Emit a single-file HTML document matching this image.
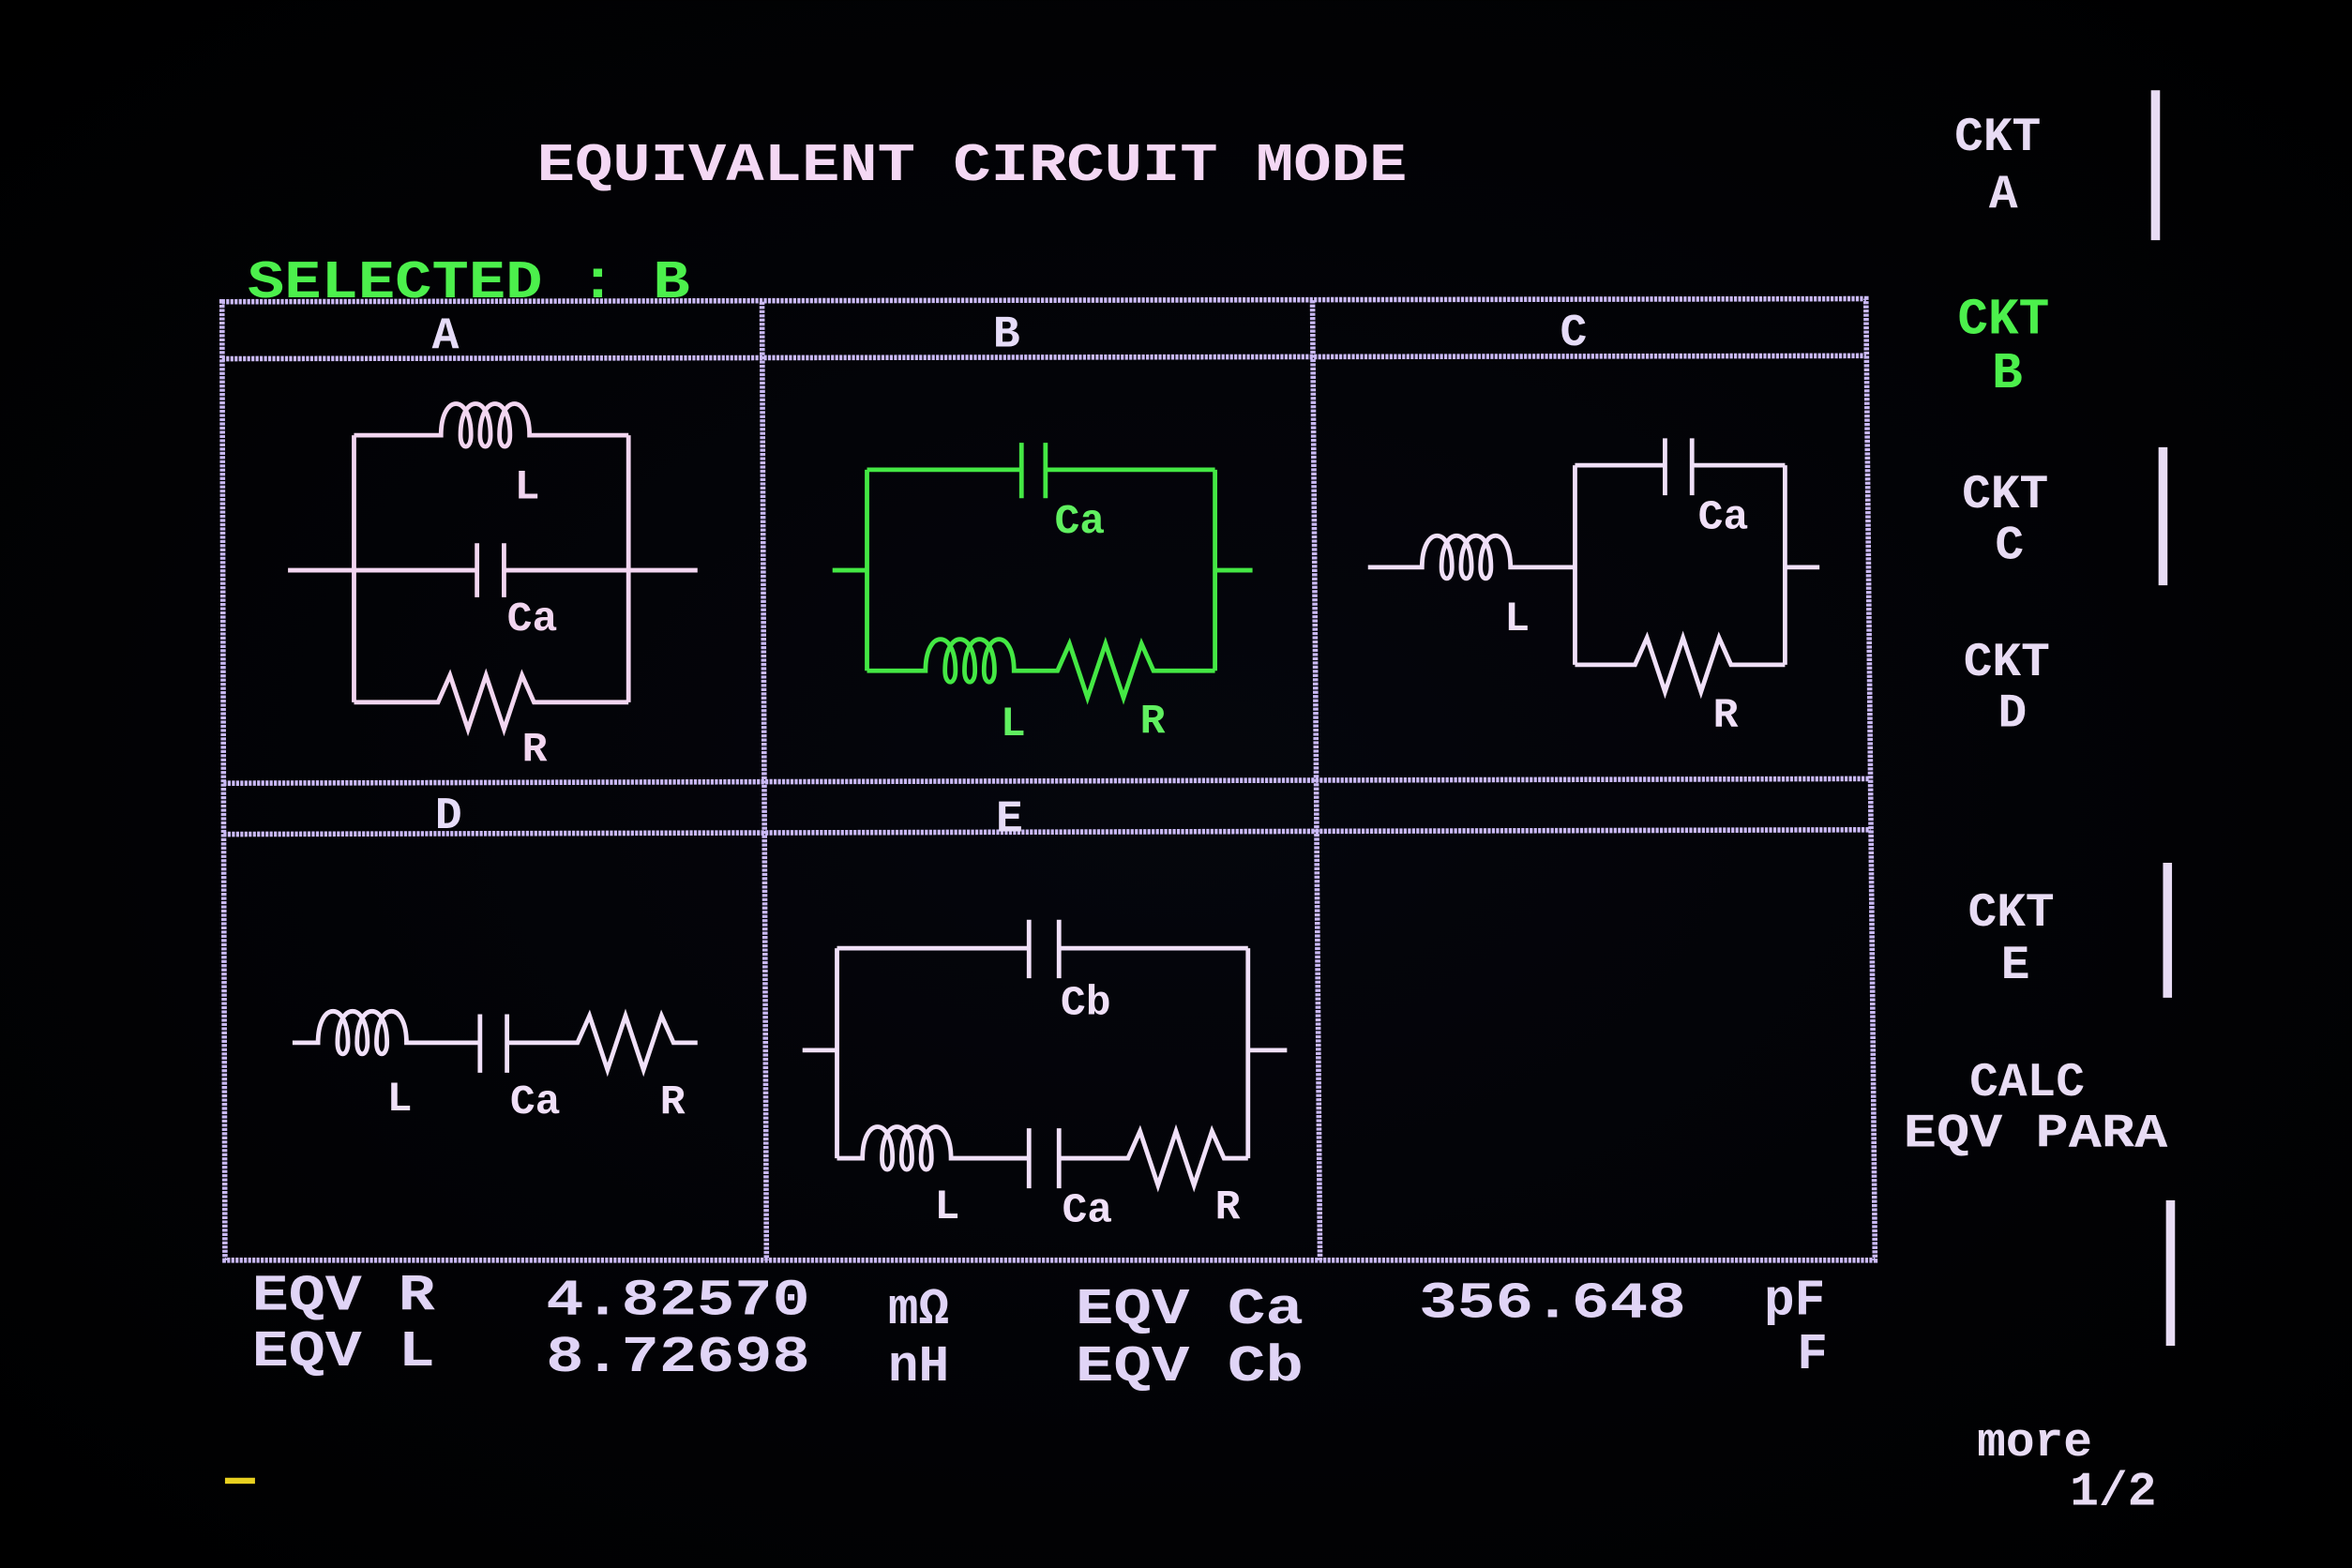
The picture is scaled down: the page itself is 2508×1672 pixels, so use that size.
<!DOCTYPE html>
<html><head><meta charset="utf-8"><style>
html,body{margin:0;padding:0;background:#000;}
svg{display:block}
text{font-family:"Liberation Mono","DejaVu Sans Mono",monospace;font-weight:bold;}
</style></head><body>
<svg width="2508" height="1672" viewBox="0 0 1568 1045" xmlns="http://www.w3.org/2000/svg">
<defs>
<radialGradient id="bg" cx="50%" cy="50%" r="70%"><stop offset="0" stop-color="#05060d"/><stop offset="1" stop-color="#000"/></radialGradient>
</defs>
<rect width="1568" height="1045" fill="url(#bg)"/>

<text x="358" y="120" font-size="36" fill="#f4d8f4" textLength="580" lengthAdjust="spacingAndGlyphs">EQUIVALENT CIRCUIT MODE</text>
<text x="165" y="198" font-size="36" fill="#4cf04c" textLength="295" lengthAdjust="spacingAndGlyphs">SELECTED : B</text>

<g stroke="#cbbaf6" stroke-width="3.5" fill="none" stroke-dasharray="2 0.8">
<path d="M148 201 L1244 199 L1250 840 L150 840 Z"/>
<path d="M148 239 L1244 237"/>
<path d="M149 522 L1246 519"/>
<path d="M149 556 L1247 553"/>
<path d="M508 201 L511 840"/>
<path d="M875 200 L880 840"/>
</g>
<g fill="#e6dcf8" font-size="30">
<text x="288" y="232">A</text>
<text x="662" y="231">B</text>
<text x="1040" y="230">C</text>
<text x="290" y="552">D</text>
<text x="664" y="554">E</text>
</g>

<!-- Circuit A -->
<g stroke="#f2d6f0" stroke-width="3" fill="none">
<path d="M192 380 L318 380 M336 380 L465 380"/>
<path d="M318 362 L318 398 M336 362 L336 398"/>
<path d="M236 290 L236 468 M419 290 L419 468"/>
<path d="M236 290 L294 290 c0,-28 20,-28 20,0 c0,10 -7,10 -7,0 c0,-28 20,-28 20,0 c0,10 -7,10 -7,0 c0,-28 20,-28 20,0 c0,10 -7,10 -7,0 c0,-28 20,-28 20,0 L419 290"/>
<path d="M236 468 L292 468 L300 450 L312 486 L324 450 L336 486 L348 450 L356 468 L419 468"/>
</g>
<g fill="#f2d6f0" font-size="28"><text x="343" y="332">L</text><text x="338" y="420">Ca</text><text x="348" y="507">R</text></g>

<!-- Circuit B -->
<g stroke="#44e844" stroke-width="3" fill="none">
<path d="M555 380 L578 380 M810 380 L835 380"/>
<path d="M578 313 L681 313 M697 313 L810 313 M578 313 L578 447 M810 313 L810 447"/>
<path d="M681 295 L681 332 M697 295 L697 332"/>
<path d="M578 447 L617 447 c0,-28 20,-28 20,0 c0,10 -7,10 -7,0 c0,-28 20,-28 20,0 c0,10 -7,10 -7,0 c0,-28 20,-28 20,0 c0,10 -7,10 -7,0 c0,-28 20,-28 20,0 L705 447 L713 429 L725 465 L737 429 L749 465 L761 429 L769 447 L810 447"/>
</g>
<g fill="#60f060" font-size="28"><text x="703" y="355">Ca</text><text x="667" y="490">L</text><text x="760" y="488">R</text></g>

<!-- Circuit C -->
<g stroke="#f0e0f8" stroke-width="3" fill="none">
<path d="M912 378 L948 378 c0,-28 20,-28 20,0 c0,10 -7,10 -7,0 c0,-28 20,-28 20,0 c0,10 -7,10 -7,0 c0,-28 20,-28 20,0 c0,10 -7,10 -7,0 c0,-28 20,-28 20,0 L1050 378 M1190 378 L1213 378"/>
<path d="M1050 310 L1110 310 M1128 310 L1190 310 M1050 310 L1050 443 M1190 310 L1190 443"/>
<path d="M1110 292 L1110 330 M1128 292 L1128 330"/>
<path d="M1050 443 L1090 443 L1098 425 L1110 461 L1122 425 L1134 461 L1146 425 L1154 443 L1190 443"/>
</g>
<g fill="#f0e0f8" font-size="28"><text x="1003" y="420">L</text><text x="1132" y="352">Ca</text><text x="1142" y="484">R</text></g>

<!-- Circuit D -->
<g stroke="#f0e0f8" stroke-width="3" fill="none">
<path d="M195 695 L212 695 c0,-28 20,-28 20,0 c0,10 -7,10 -7,0 c0,-28 20,-28 20,0 c0,10 -7,10 -7,0 c0,-28 20,-28 20,0 c0,10 -7,10 -7,0 c0,-28 20,-28 20,0 L320 695 M338 695 L385 695 L393 677 L405 713 L417 677 L429 713 L441 677 L449 695 L465 695"/>
<path d="M320 676 L320 715 M338 676 L338 715"/>
</g>
<g fill="#f0e0f8" font-size="28"><text x="258" y="740">L</text><text x="340" y="742">Ca</text><text x="440" y="742">R</text></g>

<!-- Circuit E -->
<g stroke="#f0e0f8" stroke-width="3" fill="none">
<path d="M535 700 L558 700 M832 700 L858 700"/>
<path d="M558 632 L686 632 M706 632 L832 632 M558 632 L558 772 M832 632 L832 772"/>
<path d="M686 613 L686 652 M706 613 L706 652"/>
<path d="M558 772 L575 772 c0,-28 20,-28 20,0 c0,10 -7,10 -7,0 c0,-28 20,-28 20,0 c0,10 -7,10 -7,0 c0,-28 20,-28 20,0 c0,10 -7,10 -7,0 c0,-28 20,-28 20,0 L686 772 M706 772 L752 772 L760 754 L772 790 L784 754 L796 790 L808 754 L816 772 L832 772"/>
<path d="M686 752 L686 792 M706 752 L706 792"/>
</g>
<g fill="#f0e0f8" font-size="28"><text x="707" y="676">Cb</text><text x="623" y="812">L</text><text x="708" y="814">Ca</text><text x="810" y="812">R</text></g>

<g fill="#e8dcf4" font-size="32">
<text x="1303" y="100">CKT</text><text x="1326" y="138">A</text>
<text x="1308" y="338">CKT</text><text x="1330" y="372">C</text>
<text x="1309" y="450">CKT</text><text x="1332" y="484">D</text>
<text x="1312" y="617">CKT</text><text x="1334" y="652">E</text>
<text x="1313" y="730">CALC</text>
<text x="1269" y="764" textLength="176" lengthAdjust="spacingAndGlyphs">EQV PARA</text>
<text x="1318" y="970">more</text>
<text x="1380" y="1003">1/2</text>
</g>
<g fill="#4cf04c" font-size="34"><text x="1305" y="222">CKT</text><text x="1328" y="258">B</text></g>
<g stroke="#e8dcf4" stroke-width="6" fill="none">
<path d="M1437 60 L1437 160"/><path d="M1442 298 L1442 390"/><path d="M1445 575 L1445 665"/><path d="M1447 800 L1447 897"/>
</g>

<g fill="#e0d4f6" font-size="34">
<text x="168" y="873" textLength="122" lengthAdjust="spacingAndGlyphs">EQV R</text>
<text x="168" y="910" textLength="122" lengthAdjust="spacingAndGlyphs">EQV L</text>
<text x="364" y="876" textLength="176" lengthAdjust="spacingAndGlyphs">4.82570</text>
<text x="364" y="914" textLength="176" lengthAdjust="spacingAndGlyphs">8.72698</text>
<text x="592" y="882">mΩ</text>
<text x="592" y="920">nH</text>
<text x="717" y="882" textLength="152" lengthAdjust="spacingAndGlyphs">EQV Ca</text>
<text x="717" y="920" textLength="152" lengthAdjust="spacingAndGlyphs">EQV Cb</text>
<text x="946" y="878" textLength="178" lengthAdjust="spacingAndGlyphs">356.648</text>
<text x="1176" y="876">pF</text>
<text x="1198" y="912">F</text>
</g>
<rect x="150" y="985" width="20" height="4" fill="#e8d020"/>
</svg>
</body></html>
